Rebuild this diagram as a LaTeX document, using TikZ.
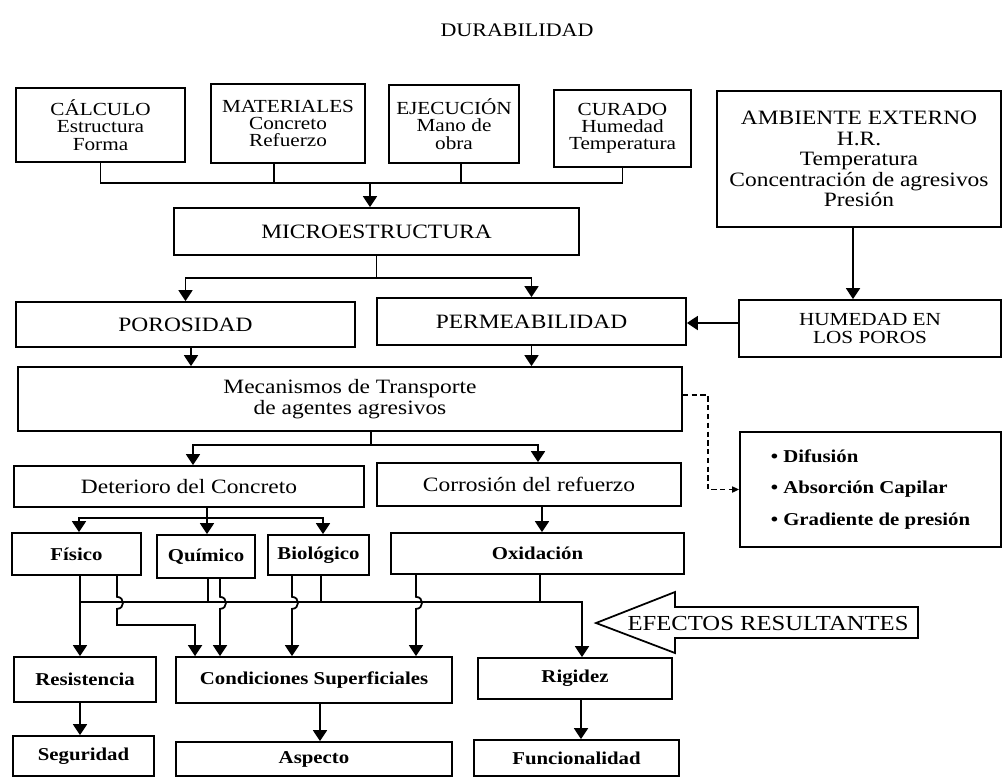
\documentclass[tikz,border=0pt]{standalone}
\usepackage{fontspec}
\setmainfont{Liberation Serif}[FakeStretch=1.15]
\usetikzlibrary{arrows.meta}

\begin{document}
\begin{tikzpicture}[x=0.02cm, y=-0.02cm]
    % Define styles
    \tikzset{
        box/.style={draw, line width=1pt, inner sep=1pt, align=center},
        link/.style={line width=1pt},
        arr/.style={line width=1pt, -{Triangle[length=0.22cm, width=0.28cm]}},
        dashlink/.style={line width=0.9pt, dash pattern=on 3pt off 2pt, -{Triangle[length=0.14cm, width=0.12cm]}},
        headtext/.style={font=\fontsize{10.5}{9.8}\selectfont},
        bigtext/.style={font=\fontsize{11.6}{11.7}\selectfont},
        boldtext/.style={font=\fontsize{10.3}{12}\selectfont\bfseries}
    }
    \useasboundingbox (0,0) rectangle (1003,778);

    % Title
    \node[font=\fontsize{10.9}{12}\selectfont] (titulo) at (517,30) {DURABILIDAD};

    % Factors
    \node[box, headtext, minimum width=3.38cm, minimum height=1.48cm] (calc) at (100.5,125) {CÁLCULO\\Estructura\\Forma};
    \node[box, headtext, minimum width=3.08cm, minimum height=1.58cm] (mat) at (288,123.5) {MATERIALES\\Concreto\\Refuerzo};
    \node[box, headtext, minimum width=2.6cm, minimum height=1.56cm] (ejec) at (454,124) {EJECUCIÓN\\Mano de\\obra};
    \node[box, headtext, minimum width=2.74cm, minimum height=1.54cm] (cur) at (622.5,128.5) {CURADO\\Humedad\\Temperatura};
    \node[box, bigtext, minimum width=5.68cm, minimum height=2.72cm] (amb) at (859,159) {AMBIENTE EXTERNO\\H.R.\\Temperatura\\Concentración de agresivos\\Presión};

    % Microstructure and transport
    \node[box, bigtext, minimum width=8.1cm, minimum height=0.94cm] (micro) at (376.5,231.5) {MICROESTRUCTURA};
    \node[box, bigtext, minimum width=6.78cm, minimum height=0.9cm] (poro) at (185.5,324.5) {POROSIDAD};
    \node[box, bigtext, minimum width=6.18cm, minimum height=0.94cm] (perm) at (531.5,321.5) {PERMEABILIDAD};
    \node[box, headtext, minimum width=5.24cm, minimum height=1.14cm] (hum) at (870,328.5) {HUMEDAD EN\\LOS POROS};
    \node[box, bigtext, minimum width=13.28cm, minimum height=1.28cm] (mec) at (350,399) {Mecanismos de Transporte\\de agentes agresivos};
    \node[box, boldtext, align=left, minimum width=5.22cm, minimum height=2.3cm] (tipos) at (870.5,489.5) {• Difusión\\[6pt]• Absorción Capilar\\[6pt]• Gradiente de presión};

    % Damage
    \node[box, bigtext, minimum width=7cm, minimum height=0.82cm] (det) at (189,486.5) {Deterioro del Concreto};
    \node[box, bigtext, minimum width=6.08cm, minimum height=0.86cm] (corr) at (529,484.5) {Corrosión del refuerzo};
    \node[box, boldtext, minimum width=2.58cm, minimum height=0.84cm] (fis) at (76.5,554) {Físico};
    \node[box, boldtext, minimum width=1.96cm, minimum height=0.86cm] (quim) at (206,556.5) {Químico};
    \node[box, boldtext, minimum width=2.02cm, minimum height=0.8cm] (bio) at (318.5,555) {Biológico};
    \node[box, boldtext, minimum width=5.86cm, minimum height=0.82cm] (oxi) at (537.5,553.5) {Oxidación};

    % Resulting effects
    \node[box, boldtext, minimum width=2.84cm, minimum height=0.9cm] (resis) at (85,679.5) {Resistencia};
    \node[box, boldtext, minimum width=5.52cm, minimum height=0.92cm] (cond) at (314,680) {Condiciones Superficiales};
    \node[box, boldtext, minimum width=3.88cm, minimum height=0.82cm] (rig) at (575,678.5) {Rigidez};
    \node[box, boldtext, minimum width=2.82cm, minimum height=0.8cm] (seg) at (83.5,756) {Seguridad};
    \node[box, boldtext, minimum width=5.52cm, minimum height=0.68cm] (asp) at (314,759) {Aspecto};
    \node[box, boldtext, minimum width=4.1cm, minimum height=0.72cm] (fun) at (576.5,758) {Funcionalidad};

    % Big arrow
    \draw[line width=1pt] (596,623) -- (675,592) -- (675,607) -- (918,607) -- (918,638) -- (675,638) -- (675,653) -- cycle;
    \node[font=\fontsize{12.2}{13}\selectfont] (efectos) at (768,623) {EFECTOS RESULTANTES};

    % Factors to microstructure
    \coordinate (bus1) at (370,183);
    \draw[link] (calc.south) |- (cur.south |- bus1) -- (cur.south);
    \draw[link] ([xshift=-0.28cm]mat.south) -- ([xshift=-0.28cm]mat.south |- bus1);
    \draw[link] ([xshift=0.14cm]ejec.south) -- ([xshift=0.14cm]ejec.south |- bus1);
    \draw[arr] (bus1) -- (bus1 |- micro.north);

    % Microstructure split
    \coordinate (bus2) at (376.5,278);
    \draw[link] (micro.south) -- (bus2);
    \draw[arr] (bus2) -| (poro.north);
    \draw[arr] (bus2) -| (perm.north);

    % Environment
    \draw[arr] ([xshift=-0.12cm]amb.south) -- ([xshift=-0.12cm]amb.south |- hum.north);
    \draw[arr] ([yshift=0.11cm]hum.west) -- ([yshift=0.11cm]hum.west -| perm.east);

    % Into transport
    \draw[arr] ([xshift=0.11cm]poro.south) -- ([xshift=0.11cm]poro.south |- mec.north);
    \draw[arr] (perm.south) -- (perm.south |- mec.north);
    \draw[dashlink] ([yshift=0.08cm]mec.east) -- ++(25,0) |- (tipos.west);

    % Transport split
    \coordinate (bus3) at (371,445);
    \draw[link] (bus3 |- mec.south) -- (bus3);
    \draw[arr] (bus3) -| ([xshift=0.08cm]det.north);
    \draw[arr] (bus3) -| ([xshift=0.18cm]corr.north);

    % Deterioration split
    \coordinate (bus4) at (207,518);
    \draw[link] (bus4 |- det.south) -- (bus4);
    \draw[arr] (bus4) -| ([xshift=0.05cm]fis.north);
    \draw[arr] (bus4) -- (bus4 |- quim.north);
    \draw[arr] (bus4) -| ([xshift=0.09cm]bio.north);
    \draw[arr] ([xshift=0.26cm]corr.south) -- ([xshift=0.26cm]corr.south |- oxi.north);

    % Effects bus to rigidity
    \coordinate (bus5) at (80,602);
    \draw[arr] (bus5 |- fis.south) -- (bus5 |- resis.north);
    \draw[arr] (bus5) -| ([xshift=0.14cm]rig.north);
    \draw[link] ([xshift=0.04cm]quim.south) -- ([xshift=0.04cm]quim.south |- bus5);
    \draw[link] ([xshift=0.05cm]bio.south) -- ([xshift=0.05cm]bio.south |- bus5);
    \draw[link] ([xshift=0.05cm]oxi.south) -- ([xshift=0.05cm]oxi.south |- bus5);

    % Lines to surface conditions, hopping over the bus
    \draw[arr] ([xshift=0.81cm]fis.south) -- ++(0,21) .. controls +(8,0) and +(8,0) .. ++(0,12) -- ++(0,16) -| ([xshift=-2.38cm]cond.north);
    \draw[arr] ([xshift=0.28cm]quim.south) -- ++(0,18) .. controls +(8,0) and +(8,0) .. ++(0,12) -- ([xshift=-1.88cm]cond.north);
    \draw[arr] ([xshift=-0.53cm]bio.south) -- ++(0,21) .. controls +(8,0) and +(8,0) .. ++(0,12) -- ([xshift=-0.44cm]cond.north);
    \draw[arr] ([xshift=-2.43cm]oxi.south) -- ++(0,22) .. controls +(8,0) and +(8,0) .. ++(0,12) -- ([xshift=2.04cm]cond.north);

    % Final consequences
    \draw[arr] ([xshift=-0.1cm]resis.south) -- ([xshift=-0.1cm]resis.south |- seg.north);
    \draw[arr] ([xshift=0.12cm]cond.south) -- ([xshift=0.12cm]cond.south |- asp.north);
    \draw[arr] ([xshift=0.12cm]rig.south) -- ([xshift=0.12cm]rig.south |- fun.north);
\end{tikzpicture}
\end{document}
